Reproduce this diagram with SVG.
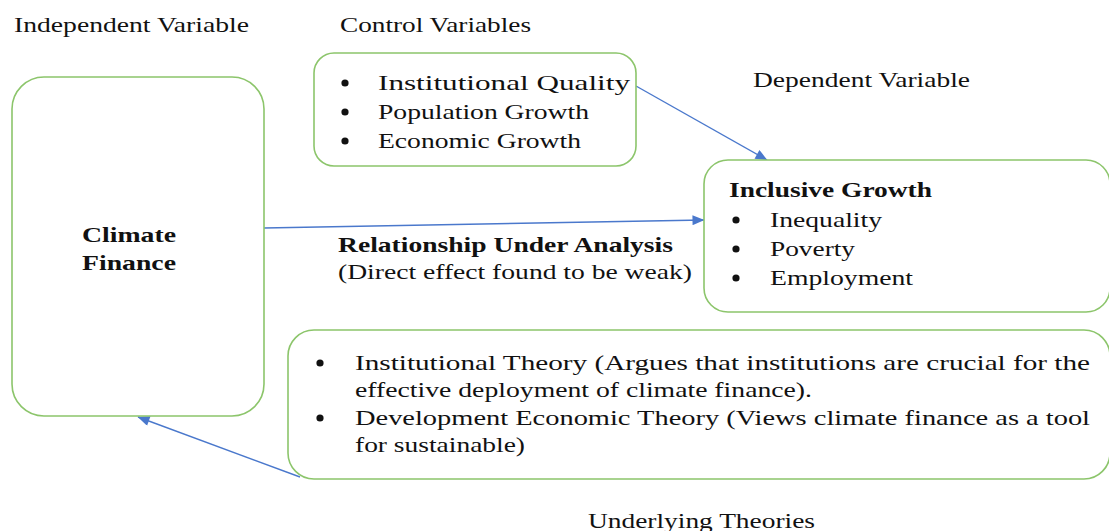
<svg xmlns="http://www.w3.org/2000/svg" width="1109" height="531" viewBox="0 0 1109 531">
  <style>
    .box { fill: #ffffff; stroke: #8cc56b; stroke-width: 1.6; }
    .t { font-family: "Liberation Serif", "Times New Roman", serif; font-size: 21px; fill: #111111; }
    .b { font-weight: bold; }
    .dot { fill: #111111; }
    .link { stroke: #4a78cc; stroke-width: 1.4; fill: none; marker-end: url(#head); }
  </style>
  <defs>
    <marker id="head" viewBox="0 0 12 10" refX="11.5" refY="5" markerWidth="13" markerHeight="10" markerUnits="userSpaceOnUse" orient="auto">
      <path d="M0,0 L12,5 L0,10 z" fill="#4a78cc"/>
    </marker>
  </defs>

  <!-- section headings -->
  <g id="headings">
    <text class="t" x="14" y="32" textLength="235" lengthAdjust="spacingAndGlyphs">Independent Variable</text>
    <text class="t" x="340" y="32" textLength="191" lengthAdjust="spacingAndGlyphs">Control Variables</text>
    <text class="t" x="753" y="87" textLength="217" lengthAdjust="spacingAndGlyphs">Dependent Variable</text>
    <text class="t" x="588" y="528" textLength="227" lengthAdjust="spacingAndGlyphs">Underlying Theories</text>
  </g>

  <!-- connectors -->
  <g id="connectors">
    <line class="link" x1="636" y1="86" x2="767" y2="160"/>
    <line class="link" x1="264" y1="228" x2="704" y2="220"/>
    <line class="link" x1="300" y1="477" x2="138" y2="417"/>
  </g>

  <!-- independent variable -->
  <g id="climate-finance">
    <rect class="box" x="12" y="77" width="252" height="339" rx="32"/>
    <text class="t b" x="129" y="242" text-anchor="middle" textLength="94" lengthAdjust="spacingAndGlyphs">Climate</text>
    <text class="t b" x="129" y="270" text-anchor="middle" textLength="94" lengthAdjust="spacingAndGlyphs">Finance</text>
  </g>

  <!-- control variables -->
  <g id="control-variables">
    <rect class="box" x="314" y="53" width="322" height="113" rx="20"/>
    <circle class="dot" cx="345" cy="83" r="3.6"/>
    <circle class="dot" cx="345" cy="112" r="3.6"/>
    <circle class="dot" cx="345" cy="141" r="3.6"/>
    <text class="t" x="378" y="90" textLength="252" lengthAdjust="spacingAndGlyphs">Institutional Quality</text>
    <text class="t" x="378" y="119" textLength="211" lengthAdjust="spacingAndGlyphs">Population Growth</text>
    <text class="t" x="378" y="148" textLength="203" lengthAdjust="spacingAndGlyphs">Economic Growth</text>
  </g>

  <!-- relationship label -->
  <g id="relationship">
    <text class="t b" x="338" y="252" textLength="335" lengthAdjust="spacingAndGlyphs">Relationship Under Analysis</text>
    <text class="t" x="338" y="279" textLength="354" lengthAdjust="spacingAndGlyphs">(Direct effect found to be weak)</text>
  </g>

  <!-- dependent variable -->
  <g id="inclusive-growth">
    <rect class="box" x="704" y="160" width="406" height="152" rx="24"/>
    <text class="t b" x="729" y="197" textLength="203" lengthAdjust="spacingAndGlyphs">Inclusive Growth</text>
    <circle class="dot" cx="736" cy="220" r="3.6"/>
    <circle class="dot" cx="736" cy="249" r="3.6"/>
    <circle class="dot" cx="736" cy="278" r="3.6"/>
    <text class="t" x="770" y="227" textLength="112" lengthAdjust="spacingAndGlyphs">Inequality</text>
    <text class="t" x="770" y="256" textLength="85" lengthAdjust="spacingAndGlyphs">Poverty</text>
    <text class="t" x="770" y="285" textLength="143" lengthAdjust="spacingAndGlyphs">Employment</text>
  </g>

  <!-- underlying theories -->
  <g id="theories">
    <rect class="box" x="288" y="330" width="822" height="149" rx="26"/>
    <circle class="dot" cx="320" cy="363" r="3.6"/>
    <circle class="dot" cx="320" cy="418" r="3.6"/>
    <text class="t" x="355" y="370" textLength="735" lengthAdjust="spacingAndGlyphs">Institutional Theory (Argues that institutions are crucial for the</text>
    <text class="t" x="355" y="397" textLength="457" lengthAdjust="spacingAndGlyphs">effective deployment of climate finance).</text>
    <text class="t" x="355" y="425" textLength="735" lengthAdjust="spacingAndGlyphs">Development Economic Theory (Views climate finance as a tool</text>
    <text class="t" x="355" y="452" textLength="170" lengthAdjust="spacingAndGlyphs">for sustainable)</text>
  </g>
</svg>
